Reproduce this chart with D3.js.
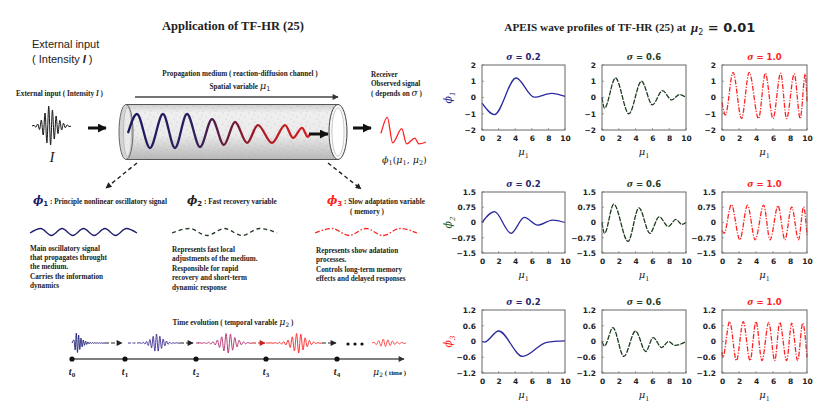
<!DOCTYPE html>
<html>
<head>
<meta charset="utf-8">
<script src="https://cdn.jsdelivr.net/npm/d3@7"></script>
<style>
  body { margin: 0; background: #fff; }
  svg { display: block; }
  .ser { font-family: "Liberation Serif", "Times New Roman", serif; font-weight: bold; fill: #222; }
  .tick text { font-family: "DejaVu Sans", sans-serif; font-weight: bold; font-size: 7.5px; fill: #222; }
  .domain { display: none; }
</style>
</head>
<body>
<svg id="fig" width="835" height="411"></svg>
<script>
// ---------- DATA ----------
const mu1Ticks = [0, 2, 4, 6, 8, 10];
const sigmaLabels = ['0.2', '0.6', '1.0'];
const phiNames = ['1', '2', '3'];
const phiTicks = [[-2, -1, 0, 1, 2], [-1.5, -0.75, 0, 0.75, 1.5], [-1.2, -0.6, 0, 0.6, 1.2]];
const phiLimits = [2, 1.5, 1.2];

// turning points [mu1, phi] read from the profiles at mu2 = 0.01
const phi1Sig02 = [[0, -0.35], [1.5, -1.05], [4.1, 1.2], [6.3, 0.02], [8.4, 0.25], [10, 0.07]];
const phi1Sig06 = [[0, 0], [0.3, -0.65], [1.6, 1.2], [3.2, -1.0], [4.7, 1.0], [6.0, -0.45], [7.2, 0.42], [8.3, -0.15], [9.2, 0.18], [10, 0]];
const phi1Sig10 = [[0, -0.3], [0.4, -1.07], [1.3, 1.55], [2.3, -1.3], [3.2, 1.55], [4.3, -1.3], [5.1, 1.5], [6.0, -1.3], [6.9, 1.5], [7.6, -1.3], [8.5, 1.45], [9.2, -1.3], [9.8, 1.45], [10, -0.3]];

const phi2Sig02 = [[0, 0], [1.5, 0.53], [3.5, -0.53], [5.1, 0.25], [6.7, -0.13], [8.5, 0.12], [10, 0]];
const phi2Sig06 = [[0, 0], [0.3, -0.53], [1.4, 0.9], [3.1, -0.93], [4.4, 0.72], [5.7, -0.53], [6.8, 0.28], [7.9, -0.2], [8.8, 0.15], [9.5, -0.09], [10, 0]];
const phi2Sig10 = [[0, -0.4], [0.25, -0.53], [1.1, 0.88], [2.1, -0.85], [3.0, 0.85], [3.9, -0.85], [4.9, 0.85], [5.65, -0.85], [6.6, 0.82], [7.4, -0.85], [8.2, 0.77], [9.0, -0.85], [9.6, 0.77], [10, -0.6]];

const phi3Sig02 = [[0, 0], [0.3, -0.02], [2.0, 0.4], [4.9, -0.57], [7.8, -0.03], [10, 0.02]];
const phi3Sig06 = [[0, 0], [0.3, -0.17], [1.3, 0.53], [2.6, -0.57], [4.0, 0.4], [5.2, -0.38], [6.1, 0.15], [7.1, -0.23], [7.9, 0.0], [8.7, -0.15], [10, 0]];
const phi3Sig10 = [[0, -0.4], [0.1, -0.6], [0.9, 0.76], [1.7, -0.73], [2.5, 0.76], [3.3, -0.73], [4.0, 0.76], [4.7, -0.73], [5.5, 0.73], [6.2, -0.73], [6.8, 0.73], [7.6, -0.73], [8.2, 0.7], [8.9, -0.73], [9.5, 0.7], [10, -0.6]];

const profiles = [
  [phi1Sig02, phi1Sig06, phi1Sig10],
  [phi2Sig02, phi2Sig06, phi2Sig10],
  [phi3Sig02, phi3Sig06, phi3Sig10]
];

// illustration shapes (relative position 0..1, relative amplitude)
const tubeWave = [[0, -0.12], [0.049, 1], [0.121, -1], [0.192, 1], [0.258, -1], [0.324, 1], [0.396, -0.94], [0.462, 0.7], [0.527, -0.82], [0.588, 0.53], [0.654, -0.7], [0.714, 0.35], [0.791, -0.7], [0.863, 0.35], [0.907, -0.41], [0.956, 0.18], [0.989, -0.35], [1, -0.18]];
const receiverWave = [[0, 0.45], [0.14, 1.3], [0.26, -0.05], [0.46, 0.7], [0.57, -0.1], [0.75, 0.2], [0.84, -0.1], [1, 0]];
const inputEnv = [0.03, 0.06, 0.1, 0.18, 0.3, 0.45, 0.65, 0.85, 1, 0.95, 0.8, 0.65, 0.5, 0.38, 0.28, 0.2, 0.14, 0.09, 0.06, 0.03];
const packetEnvs = [
  [0.3, 0.7, 1, 0.95, 0.8, 0.65, 0.5, 0.4, 0.3, 0.24, 0.18, 0.14, 0.11, 0.09, 0.07, 0.06, 0.05, 0.04, 0.04, 0.03, 0.03, 0.03, 0.02, 0.02, 0.02, 0.02],
  [0.03, 0.05, 0.08, 0.12, 0.18, 0.28, 0.4, 0.55, 0.75, 0.9, 1, 0.9, 0.75, 0.6, 0.45, 0.32, 0.22, 0.15, 0.1, 0.07, 0.05, 0.04, 0.03, 0.02],
  [0.02, 0.03, 0.04, 0.05, 0.07, 0.1, 0.14, 0.2, 0.3, 0.45, 0.62, 0.8, 0.95, 1, 0.9, 0.72, 0.55, 0.4, 0.28, 0.18, 0.12, 0.08, 0.05, 0.03],
  [0.02, 0.03, 0.04, 0.05, 0.07, 0.1, 0.14, 0.2, 0.3, 0.45, 0.62, 0.8, 0.95, 1, 0.88, 0.7, 0.52, 0.38, 0.26, 0.17, 0.11, 0.07, 0.05, 0.03],
  [0.2, 0.4, 0.6, 0.8, 1, 0.9, 0.8, 0.65, 0.5, 0.4, 0.3, 0.22, 0.15, 0.1]
];
const timeLabels = ['0', '1', '2', '3', '4'];
const iconCycles = [5, 3, 3];

const phiDescriptions = [
  ['Main oscillatory signal', 'that propagates throught', 'the medium.', 'Carries the information', 'dynamics'],
  ['Represents fast local', 'adjustments of the medium.', 'Responsible for rapid', 'recovery and short-term', 'dynamic response'],
  ['Represents show adatation', 'processes.', 'Controls long-term memory', 'effects and delayed responses']
];
const phiLegend = [' : Principle nonlinear oscillatory signal', ' : Fast recovery variable', ' : Slow adaptation variable'];

// ---------- STYLE ----------
const _color = {
  navy: '#1c1c6e', sig02: '#2a2aa0', sig06: '#1e3a1e', sig10: '#ff2424',
  title: ['#26266e', '#264026', '#ff2020'], ylab: ['#2a2a8a', '#2a5a2a', '#ff2020'],
  frame: '#666', ink: '#222'
};
const lineDash = [null, '5,1.2', '5,1.5,1.2,1.5'];
const lineColor = [_color.sig02, _color.sig06, _color.sig10];
const colX = [[482, 565], [602, 686], [722, 807]];
const rowY = [[65, 130], [192, 253], [310, 373]];

const svg = d3.select('#fig');
const defs = svg.append('defs');

function addMarker(id, color, w, h) {
  defs.append('marker')
      .attr('id', id)
      .attr('viewBox', '0 0 10 10')
      .attr('refX', 9).attr('refY', 5)
      .attr('markerUnits', 'userSpaceOnUse')
      .attr('markerWidth', w).attr('markerHeight', h)
      .attr('orient', 'auto')
    .append('path')
      .attr('d', 'M0,0 L10,5 L0,10 z')
      .attr('fill', color);
}
addMarker('headBig', '#111', 9, 9);
addMarker('headSmall', '#222', 7, 6);
addMarker('headRed', '#c82020', 7, 6);
addMarker('headThin', '#333', 8, 6);

const smooth = d3.line().curve(d3.curveMonotoneX);

// ---------- RIGHT: profile grid ----------
svg.append('text').attr('class', 'ser')
    .attr('x', 686).attr('y', 31).attr('font-size', 11.2).attr('text-anchor', 'end')
    .text('APEIS wave profiles of TF-HR (25) at');
let mt = svg.append('text').attr('x', 691).attr('y', 32).attr('font-size', 13).attr('fill', _color.ink);
mt.append('tspan').attr('font-family', 'Liberation Serif, serif').attr('font-style', 'italic').attr('font-weight', 'bold').text('μ');
mt.append('tspan').attr('font-family', 'DejaVu Sans, sans-serif').attr('font-size', 8).attr('dy', 3).text('2');
mt.append('tspan').attr('font-family', 'DejaVu Sans, sans-serif').attr('font-weight', 'bold').attr('dy', -3).text(' = 0.01');

profiles.forEach((row, r) => {
  const [y0, y1] = rowY[r];
  const y = d3.scaleLinear().domain([-phiLimits[r], phiLimits[r]]).range([y1, y0]);

  // row y label
  let yl = svg.append('text')
      .attr('transform', `translate(452, ${(y0 + y1) / 2}) rotate(-90)`)
      .attr('text-anchor', 'middle')
      .attr('fill', _color.ylab[r]).attr('font-size', 11)
      .attr('font-family', 'DejaVu Serif, serif').attr('font-style', 'italic');
  yl.append('tspan').text('ϕ');
  yl.append('tspan').attr('font-size', 7).attr('dy', 3).text(phiNames[r]);

  row.forEach((series, c) => {
    const [x0, x1] = colX[c];
    const x = d3.scaleLinear().domain([0, 10]).range([x0, x1]);
    const g = svg.append('g');

    g.append('g').attr('transform', `translate(0, ${y1})`)
        .call(d3.axisBottom(x).tickValues(mu1Ticks).tickSize(0).tickPadding(6));
    g.append('g').attr('transform', `translate(${x0}, 0)`)
        .call(d3.axisLeft(y).tickValues(phiTicks[r]).tickSize(0).tickPadding(6).tickFormat(d3.format('')));

    // short inner ticks
    g.selectAll('line.xt').data(mu1Ticks).enter().append('line')
        .attr('x1', d => x(d)).attr('x2', d => x(d))
        .attr('y1', y1).attr('y2', y1 - 2).attr('stroke', _color.frame).attr('stroke-width', 0.6);
    g.selectAll('line.yt').data(phiTicks[r]).enter().append('line')
        .attr('x1', x0).attr('x2', x0 + 2)
        .attr('y1', d => y(d)).attr('y2', d => y(d)).attr('stroke', _color.frame).attr('stroke-width', 0.6);

    g.append('path')
        .attr('d', smooth(series.map(d => [x(d[0]), y(d[1])])))
        .attr('fill', 'none')
        .attr('stroke', lineColor[c])
        .attr('stroke-width', 1.3)
        .attr('stroke-dasharray', lineDash[c]);

    g.append('rect')
        .attr('x', x0).attr('y', y0)
        .attr('width', x1 - x0).attr('height', y1 - y0)
        .attr('fill', 'none').attr('stroke', _color.frame).attr('stroke-width', 1);

    let st = g.append('text')
        .attr('x', (x0 + x1) / 2).attr('y', y0 - 5)
        .attr('text-anchor', 'middle').attr('font-size', 8.5)
        .attr('font-family', 'DejaVu Sans, sans-serif').attr('font-weight', 'bold')
        .attr('fill', _color.title[c]);
    st.append('tspan').attr('font-style', 'italic').attr('font-family', 'DejaVu Serif, serif').text('σ');
    st.append('tspan').text(' = ' + sigmaLabels[c]);

    let xl = g.append('text')
        .attr('x', (x0 + x1) / 2).attr('y', y1 + 25)
        .attr('text-anchor', 'middle').attr('font-size', 10)
        .attr('font-family', 'DejaVu Serif, serif').attr('fill', _color.ink);
    xl.append('tspan').attr('font-style', 'italic').text('μ');
    xl.append('tspan').attr('font-size', 6.5).attr('dy', 2.5).text('1');
  });
});

// ---------- LEFT: illustration ----------
svg.append('text').attr('class', 'ser')
    .attr('x', 233).attr('y', 30).attr('text-anchor', 'middle').attr('font-size', 12.5)
    .text('Application of TF-HR (25)');

svg.append('text').attr('x', 32).attr('y', 48)
    .attr('font-family', 'Liberation Sans, Arial, sans-serif').attr('font-size', 11).attr('fill', _color.ink)
    .text('External input');
let ei = svg.append('text').attr('x', 32).attr('y', 63)
    .attr('font-family', 'Liberation Sans, Arial, sans-serif').attr('font-size', 11).attr('fill', _color.ink);
ei.append('tspan').text('( Intensity ');
ei.append('tspan').attr('font-weight', 'bold').attr('font-style', 'italic').text('I');
ei.append('tspan').text(' )');

let ei2 = svg.append('text').attr('class', 'ser').attr('x', 16).attr('y', 95.5).attr('font-size', 7.2);
ei2.append('tspan').text('External input ( Intensity ');
ei2.append('tspan').attr('font-style', 'italic').text('I');
ei2.append('tspan').text(' )');

function drawPacket(x0, x1, cy, amp, env, color, width) {
  const xs = d3.scaleLinear().domain([0, env.length - 1]).range([x0, x1]);
  const pts = env.map((a, i) => [xs(i), cy - (i % 2 ? -1 : 1) * a * amp]);
  pts.unshift([x0 - 2, cy]);
  pts.push([x1 + 2, cy]);
  svg.append('path').attr('d', smooth(pts))
      .attr('fill', 'none').attr('stroke', color).attr('stroke-width', width);
}

// input packet
drawPacket(34, 69, 126, 20, inputEnv, '#111', 1);
svg.append('text').attr('x', 52).attr('y', 162).attr('text-anchor', 'middle')
    .attr('font-family', 'Liberation Serif, serif').attr('font-style', 'italic').attr('font-size', 15).attr('fill', _color.ink)
    .text('I');

function bigArrow(xa, xb, yy) {
  svg.append('line').attr('x1', xa).attr('x2', xb).attr('y1', yy).attr('y2', yy)
      .attr('stroke', '#111').attr('stroke-width', 3).attr('marker-end', 'url(#headBig)');
}
bigArrow(88, 106, 128);

// tube
const tubeGrad = defs.append('linearGradient').attr('id', 'tubeGrad').attr('x1', 0).attr('x2', 0).attr('y1', 0).attr('y2', 1);
[['0', '#cfcfcf'], ['0.15', '#efefef'], ['0.55', '#ebebeb'], ['1', '#b8b8b8']].forEach(s =>
  tubeGrad.append('stop').attr('offset', s[0]).attr('stop-color', s[1]));
const speck = defs.append('pattern').attr('id', 'speck').attr('width', 13).attr('height', 11).attr('patternUnits', 'userSpaceOnUse');
[[2, 3], [8, 1], [11, 7], [5, 9], [7, 5]].forEach(p =>
  speck.append('circle').attr('cx', p[0]).attr('cy', p[1]).attr('r', 0.45).attr('fill', '#9a9a9a'));

svg.append('rect').attr('x', 126).attr('y', 104.5).attr('width', 212).attr('height', 55).attr('fill', 'url(#tubeGrad)');
svg.append('rect').attr('x', 126).attr('y', 104.5).attr('width', 212).attr('height', 55).attr('fill', 'url(#speck)');
svg.append('line').attr('x1', 126).attr('x2', 338).attr('y1', 104.5).attr('y2', 104.5).attr('stroke', '#555');
svg.append('line').attr('x1', 126).attr('x2', 338).attr('y1', 159.5).attr('y2', 159.5).attr('stroke', '#555');
svg.append('ellipse').attr('cx', 126).attr('cy', 132).attr('rx', 7).attr('ry', 27.5)
    .attr('fill', '#d4d4d4').attr('stroke', '#555').attr('stroke-width', 0.9);
svg.append('ellipse').attr('cx', 127.5).attr('cy', 132).attr('rx', 4).attr('ry', 24.5)
    .attr('fill', '#e9e9e9').attr('stroke', '#999').attr('stroke-width', 0.5);

const waveGrad = defs.append('linearGradient').attr('id', 'waveGrad')
    .attr('gradientUnits', 'userSpaceOnUse').attr('x1', 128).attr('x2', 310).attr('y1', 0).attr('y2', 0);
[['0', '#1a1a5c'], ['0.35', '#2a1f5e'], ['0.55', '#6a1a3a'], ['0.75', '#b01a22'], ['1', '#d82020']].forEach(s =>
  waveGrad.append('stop').attr('offset', s[0]).attr('stop-color', s[1]));
const tx = d3.scaleLinear().domain([0, 1]).range([128, 310]);
svg.append('path').attr('d', smooth(tubeWave.map(d => [tx(d[0]), 131 - d[1] * 17])))
    .attr('fill', 'none').attr('stroke', 'url(#waveGrad)').attr('stroke-width', 2.3);
bigArrow(309, 328, 134);

svg.append('ellipse').attr('cx', 338).attr('cy', 132).attr('rx', 9).attr('ry', 27.5)
    .attr('fill', '#f6f6f6').attr('stroke', '#444').attr('stroke-width', 1);
svg.append('ellipse').attr('cx', 338).attr('cy', 132).attr('rx', 6).attr('ry', 24)
    .attr('fill', '#fff').attr('stroke', '#aaa').attr('stroke-width', 0.6);

// spatial arrow + labels
svg.append('line').attr('x1', 135).attr('x2', 338).attr('y1', 97).attr('y2', 97)
    .attr('stroke', '#444').attr('stroke-width', 1.3).attr('marker-end', 'url(#headThin)');
svg.append('text').attr('class', 'ser').attr('x', 240).attr('y', 75.5).attr('text-anchor', 'middle').attr('font-size', 7.2)
    .text('Propagation medium ( reaction-diffusion channel )');
let sv = svg.append('text').attr('class', 'ser').attr('x', 240).attr('y', 88.5).attr('text-anchor', 'middle').attr('font-size', 7.2);
sv.append('tspan').text('Spatial variable  ');
sv.append('tspan').attr('font-size', 10).attr('font-style', 'italic').attr('font-family', 'DejaVu Serif, serif').attr('font-weight', 'normal').text('μ');
sv.append('tspan').attr('font-size', 6.5).attr('dy', 2).attr('font-family', 'DejaVu Sans, sans-serif').attr('font-weight', 'normal').text('1');

// receiver
bigArrow(353, 371, 128);
['Receiver', 'Observed signal'].forEach((t, i) =>
  svg.append('text').attr('class', 'ser').attr('x', 371).attr('y', 76.5 + i * 9.5).attr('font-size', 7.2).text(t));
let dep = svg.append('text').attr('class', 'ser').attr('x', 371).attr('y', 96).attr('font-size', 7.2);
dep.append('tspan').text('( depends on ');
dep.append('tspan').attr('font-style', 'italic').attr('font-size', 9).attr('font-family', 'DejaVu Serif, serif').attr('font-weight', 'normal').text('σ');
dep.append('tspan').text(' )');

const rx = d3.scaleLinear().domain([0, 1]).range([381, 426]);
svg.append('path').attr('d', smooth(receiverWave.map(d => [rx(d[0]), 142 - d[1] * 19])))
    .attr('fill', 'none').attr('stroke', '#ff2020').attr('stroke-width', 1.3);
let ph = svg.append('text').attr('x', 382).attr('y', 163).attr('font-size', 9.5)
    .attr('font-family', 'DejaVu Serif, serif').attr('fill', _color.ink);
ph.append('tspan').attr('font-style', 'italic').text('ϕ');
ph.append('tspan').attr('font-size', 6.5).attr('dy', 2).text('1');
ph.append('tspan').attr('dy', -2).text('(');
ph.append('tspan').attr('font-style', 'italic').text('μ');
ph.append('tspan').attr('font-size', 6.5).attr('dy', 2).text('1');
ph.append('tspan').attr('dy', -2).text(', ');
ph.append('tspan').attr('font-style', 'italic').text('μ');
ph.append('tspan').attr('font-size', 6.5).attr('dy', 2).text('2');
ph.append('tspan').attr('dy', -2).text(')');

// dashed pointers
[[137, 163, 106, 188], [328, 163, 361, 189]].forEach(d =>
  svg.append('line').attr('x1', d[0]).attr('y1', d[1]).attr('x2', d[2]).attr('y2', d[3])
      .attr('stroke', '#222').attr('stroke-width', 1.4).attr('stroke-dasharray', '4,3')
      .attr('marker-end', 'url(#headSmall)'));

// phi legend
const legX = [33, 187, 327];
const legPhiColor = [_color.navy, _color.ink, '#ff2020'];
phiLegend.forEach((t, i) => {
  let lt = svg.append('text').attr('x', legX[i]).attr('y', 204);
  lt.append('tspan').attr('font-family', 'DejaVu Serif, serif').attr('font-style', 'italic').attr('font-weight', 'bold')
      .attr('font-size', 11).attr('fill', legPhiColor[i]).text('ϕ');
  lt.append('tspan').attr('font-family', 'DejaVu Sans, sans-serif').attr('font-weight', 'bold')
      .attr('font-size', 7).attr('dy', 2).attr('fill', legPhiColor[i]).text(phiNames[i]);
  lt.append('tspan').attr('class', 'ser').attr('dy', -2).attr('font-size', 7.2).text(t);
});
svg.append('text').attr('class', 'ser').attr('x', 350).attr('y', 213.5).attr('font-size', 7.2).text('( memory )');

// legend wave icons
const iconX = [[30, 137], [172, 277], [315, 417]];
const iconStyle = [[_color.navy, null], ['#1e3a1e', '4,3'], ['#ff2020', '5,2,1.5,2']];
iconCycles.forEach((n, i) => {
  const ix = d3.scaleLinear().domain([0, 2 * n]).range(iconX[i]);
  const pts = d3.range(2 * n + 1).map(k => [ix(k), 232 + (k % 2 ? -1 : 1) * (k === 0 || k === 2 * n ? 1 : 3.5)]);
  svg.append('path').attr('d', smooth(pts)).attr('fill', 'none')
      .attr('stroke', iconStyle[i][0]).attr('stroke-width', 1.3).attr('stroke-dasharray', iconStyle[i][1]);
});

// descriptions
const descX = [30, 172, 316];
const descY = [250.5, 252, 253];
phiDescriptions.forEach((lines, i) => {
  lines.forEach((t, k) =>
    svg.append('text').attr('class', 'ser').attr('x', descX[i]).attr('y', descY[i] + k * 9.4).attr('font-size', 7.2).text(t));
});

// time evolution
let te = svg.append('text').attr('class', 'ser').attr('x', 233).attr('y', 325).attr('text-anchor', 'middle').attr('font-size', 7.2);
te.append('tspan').text('Time evolution ( temporal varable  ');
te.append('tspan').attr('font-size', 9.5).attr('font-style', 'italic').attr('font-family', 'DejaVu Serif, serif').attr('font-weight', 'normal').text('μ');
te.append('tspan').attr('font-size', 6).attr('dy', 2).attr('font-family', 'DejaVu Sans, sans-serif').attr('font-weight', 'normal').text('2');
te.append('tspan').attr('dy', -2).text(' )');

const packetSpans = [[74, 103], [140, 178], [200, 250], [271, 320], [374, 404]];
const packetAmps = [10, 9, 10, 10, 4];
const packetColors = ['#1c1c78', '#3a2a90', '#b02a6a', '#ff2020', '#ff3a3a'];
packetEnvs.forEach((env, i) =>
  drawPacket(packetSpans[i][0], packetSpans[i][1], 343, packetAmps[i], env, packetColors[i], 0.9));

// dashed links between packets
[[128, 138, '#2a2a80'], [196, 200, '#a02a60'], [266, 270, '#ff2020']].forEach(d =>
  svg.append('line').attr('x1', d[0]).attr('x2', d[1]).attr('y1', 343).attr('y2', 343)
      .attr('stroke', d[2]).attr('stroke-width', 0.9).attr('stroke-dasharray', '3,1.5'));
[[105, 122, '#222', 'headSmall'], [180, 193, '#222', 'headSmall'], [252, 265, '#c82020', 'headRed'], [322, 336, '#222', 'headSmall']].forEach(d =>
  svg.append('line').attr('x1', d[0]).attr('x2', d[1]).attr('y1', 343).attr('y2', 343)
      .attr('stroke', d[2]).attr('stroke-width', 1).attr('stroke-dasharray', '4,2')
      .attr('marker-end', `url(#${d[3]})`));
[348, 355, 362].forEach(cx =>
  svg.append('circle').attr('cx', cx).attr('cy', 344).attr('r', 1.6).attr('fill', '#111'));

svg.append('line').attr('x1', 72).attr('x2', 404).attr('y1', 359).attr('y2', 359)
    .attr('stroke', '#555').attr('stroke-width', 1.6).attr('marker-end', 'url(#headThin)');
const timeDots = [72, 125, 196, 266, 337];
timeDots.forEach((cx, i) => {
  svg.append('circle').attr('cx', cx).attr('cy', 359).attr('r', 2.6).attr('fill', '#111');
  let tl = svg.append('text').attr('x', cx).attr('y', 375).attr('text-anchor', 'middle')
      .attr('font-family', 'Liberation Serif, serif').attr('font-weight', 'bold').attr('fill', _color.ink);
  tl.append('tspan').attr('font-style', 'italic').attr('font-size', 10).text('t');
  tl.append('tspan').attr('font-size', 7).attr('dy', 2).text(timeLabels[i]);
});
let mu2 = svg.append('text').attr('x', 373).attr('y', 375).attr('fill', _color.ink);
mu2.append('tspan').attr('font-family', 'DejaVu Serif, serif').attr('font-style', 'italic').attr('font-size', 9.5).text('μ');
mu2.append('tspan').attr('font-family', 'DejaVu Sans, sans-serif').attr('font-size', 6).attr('dy', 2).text('2');
mu2.append('tspan').attr('class', 'ser').attr('font-size', 7).attr('dy', -2).text('  ( time )');
</script>
</body>
</html>
